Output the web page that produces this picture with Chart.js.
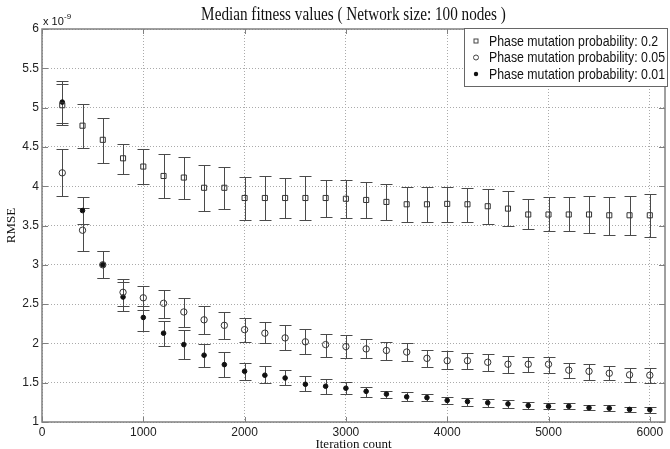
<!DOCTYPE html>
<html>
<head>
<meta charset="utf-8">
<script src="https://cdn.jsdelivr.net/npm/chart.js@4.4.1/dist/chart.umd.min.js"></script>
<style>
  html, body { margin: 0; padding: 0; background: #fff; }
  canvas { display: block; }
</style>
</head>
<body>
<canvas id="myChart" width="670" height="449"></canvas>
<script>
// iteration counts (x) and tick labels
var iterations = [200, 400, 600, 800, 1000, 1200, 1400, 1600, 1800, 2000,
  2200, 2400, 2600, 2800, 3000, 3200, 3400, 3600, 3800, 4000,
  4200, 4400, 4600, 4800, 5000, 5200, 5400, 5600, 5800, 6000];
var xTicks = [0, 1000, 2000, 3000, 4000, 5000, 6000];
var yTicks = [1, 1.5, 2, 2.5, 3, 3.5, 4, 4.5, 5, 5.5, 6];

var labels = ['Phase mutation probability: 0.2',
  'Phase mutation probability: 0.05',
  'Phase mutation probability: 0.01'];

// RMSE medians, in units of 1e-9, with lower / upper error bar ends
var med02 = [5.03, 4.77, 4.59, 4.355, 4.25, 4.13, 4.11, 3.98, 3.98, 3.85,
  3.85, 3.85, 3.85, 3.85, 3.84, 3.825, 3.80, 3.77, 3.77, 3.775,
  3.77, 3.745, 3.715, 3.64, 3.64, 3.64, 3.64, 3.63, 3.63, 3.63];
var hi02 = [5.30, 5.04, 4.87, 4.54, 4.47, 4.41, 4.37, 4.27, 4.24, 4.12,
  4.13, 4.10, 4.13, 4.08, 4.08, 4.05, 4.03, 3.99, 3.99, 3.99,
  3.98, 3.965, 3.935, 3.84, 3.86, 3.86, 3.88, 3.86, 3.875, 3.905];
var lo02 = [4.78, 4.49, 4.30, 4.16, 4.03, 3.855, 3.84, 3.68, 3.71, 3.575,
  3.57, 3.59, 3.575, 3.61, 3.595, 3.59, 3.575, 3.55, 3.55, 3.55,
  3.55, 3.52, 3.50, 3.45, 3.43, 3.43, 3.40, 3.385, 3.385, 3.355];

var med005 = [4.17, 3.44, 3.00, 2.65, 2.58, 2.51, 2.40, 2.30, 2.23, 2.175,
  2.13, 2.07, 2.02, 1.985, 1.96, 1.93, 1.91, 1.89, 1.81, 1.78,
  1.78, 1.76, 1.735, 1.735, 1.735, 1.66, 1.645, 1.62, 1.60, 1.595];
var hi005 = [4.47, 3.72, 3.17, 2.82, 2.735, 2.685, 2.58, 2.48, 2.405, 2.32,
  2.27, 2.23, 2.18, 2.125, 2.11, 2.05, 2.02, 2.00, 1.92, 1.90,
  1.88, 1.86, 1.845, 1.83, 1.83, 1.755, 1.735, 1.71, 1.69, 1.69];
var lo005 = [3.875, 3.18, 2.83, 2.47, 2.43, 2.32, 2.21, 2.125, 2.05, 2.02,
  2.00, 1.91, 1.86, 1.83, 1.81, 1.81, 1.79, 1.78, 1.70, 1.68,
  1.675, 1.655, 1.62, 1.64, 1.62, 1.565, 1.54, 1.53, 1.505, 1.50];

var med001 = [5.07, 3.69, 3.00, 2.59, 2.33, 2.13, 1.985, 1.85, 1.73, 1.645,
  1.595, 1.56, 1.48, 1.455, 1.43, 1.39, 1.355, 1.32, 1.31, 1.275,
  1.26, 1.245, 1.23, 1.21, 1.20, 1.20, 1.18, 1.175, 1.16, 1.155];
var hi001 = [5.34, 3.86, 3.17, 2.78, 2.48, 2.28, 2.17, 1.99, 1.89, 1.75,
  1.71, 1.66, 1.58, 1.55, 1.515, 1.44, 1.40, 1.38, 1.36, 1.32,
  1.31, 1.29, 1.275, 1.26, 1.245, 1.24, 1.22, 1.21, 1.195, 1.19];
var lo001 = [4.81, 3.52, 2.83, 2.41, 2.16, 1.97, 1.80, 1.705, 1.57, 1.53,
  1.49, 1.47, 1.39, 1.36, 1.35, 1.32, 1.30, 1.27, 1.265, 1.23,
  1.20, 1.195, 1.18, 1.17, 1.16, 1.16, 1.15, 1.14, 1.13, 1.115];

function points(ys) {
  return iterations.map(function(x, i) { return { x: x, y: ys[i] }; });
}

// vertical error bars with caps, drawn under the markers
var errorBars = {
  id: 'errorBars',
  beforeDatasetsDraw: function(chart) {
    var ctx = chart.ctx, xs = chart.scales.x, ys = chart.scales.y;
    ctx.save();
    ctx.strokeStyle = '#4a4a4a';
    ctx.lineWidth = 1;
    chart.data.datasets.forEach(function(ds) {
      for (var i = 0; i < ds.data.length; i++) {
        var px = Math.round(xs.getPixelForValue(ds.data[i].x)) + 0.5;
        var top = Math.round(ys.getPixelForValue(ds.hi[i])) + 0.5;
        var bot = Math.round(ys.getPixelForValue(ds.lo[i])) + 0.5;
        ctx.beginPath();
        ctx.moveTo(px, top); ctx.lineTo(px, bot);
        ctx.moveTo(px - 6, top); ctx.lineTo(px + 6, top);
        ctx.moveTo(px - 6, bot); ctx.lineTo(px + 6, bot);
        ctx.stroke();
      }
    });
    ctx.restore();
  }
};

// matlab style box with inward tick marks
var frame = {
  id: 'frame',
  beforeDatasetsDraw: function(chart) {
    var ctx = chart.ctx, a = chart.chartArea;
    var xs = chart.scales.x, ys = chart.scales.y;
    ctx.save();
    ctx.strokeStyle = '#808080';
    ctx.lineWidth = 1;
    ctx.beginPath();
    xTicks.forEach(function(v) {
      var px = Math.round(xs.getPixelForValue(v)) + 0.5;
      ctx.moveTo(px, a.bottom); ctx.lineTo(px, a.bottom - 5);
      ctx.moveTo(px, a.top); ctx.lineTo(px, a.top + 5);
    });
    yTicks.forEach(function(v) {
      var py = Math.round(ys.getPixelForValue(v)) + 0.5;
      ctx.moveTo(a.left, py); ctx.lineTo(a.left + 6, py);
      ctx.moveTo(a.right, py); ctx.lineTo(a.right - 6, py);
    });
    ctx.stroke();
    ctx.lineWidth = 1.5;
    ctx.strokeRect(a.left, a.top, a.right - a.left, a.bottom - a.top);
    ctx.restore();
  }
};

// title, axis titles, exponent and boxed legend
var texts = {
  id: 'texts',
  afterDraw: function(chart) {
    var ctx = chart.ctx, a = chart.chartArea;
    ctx.save();
    ctx.fillStyle = '#111';

    ctx.font = '19px "Liberation Serif", "Times New Roman", serif';
    ctx.textAlign = 'center';
    ctx.textBaseline = 'alphabetic';
    ctx.save();
    ctx.translate((a.left + a.right) / 2, 20);
    ctx.scale(0.8, 1);
    ctx.fillText('Median fitness values ( Network size: 100 nodes )', 0, 0);
    ctx.restore();

    ctx.font = '13px "Liberation Serif", "Times New Roman", serif';
    ctx.save();
    ctx.translate((a.left + a.right) / 2, 448);
    ctx.fillText('Iteration count', 0, 0);
    ctx.restore();

    ctx.save();
    ctx.translate(15, (a.top + a.bottom) / 2);
    ctx.rotate(-Math.PI / 2);
    ctx.fillText('RMSE', 0, 0);
    ctx.restore();

    ctx.textAlign = 'left';
    ctx.font = '11px "Liberation Sans", Arial, sans-serif';
    ctx.fillText('x 10', a.left + 1, 25);
    ctx.font = '8px "Liberation Sans", Arial, sans-serif';
    ctx.fillText('-9', a.left + 22, 19);

    // legend box
    var lx = 464.5, ly = 28.5, lw = 203, lh = 58;
    ctx.fillStyle = '#fff';
    ctx.fillRect(lx, ly, lw, lh);
    ctx.strokeStyle = '#666';
    ctx.lineWidth = 1;
    ctx.strokeRect(lx, ly, lw, lh);
    var rows = [41, 57.5, 74];
    ctx.font = '14px "Liberation Sans", Arial, sans-serif';
    ctx.textBaseline = 'middle';
    chart.data.datasets.forEach(function(ds, i) {
      var mx = 476, my = rows[i];
      ctx.strokeStyle = '#444';
      ctx.fillStyle = '#111';
      ctx.beginPath();
      if (ds.pointStyle === 'rect') {
        ctx.strokeRect(mx - 2, my - 2, 4, 4);
      } else if (ds.pointBackgroundColor === '#111') {
        ctx.arc(mx, my, 2.2, 0, Math.PI * 2);
        ctx.fill();
      } else {
        ctx.arc(mx, my, 2.5, 0, Math.PI * 2);
        ctx.stroke();
      }
      ctx.save();
      ctx.translate(489, my + 1);
      ctx.scale(0.88, 1);
      ctx.fillStyle = '#111';
      ctx.fillText(ds.label, 0, 0);
      ctx.restore();
    });
    ctx.restore();
  }
};

var ctx = document.getElementById('myChart').getContext('2d');
var chart = new Chart(ctx, {
  type: 'scatter',
  data: {
    datasets: [{
      label: labels[0],
      data: points(med02), lo: lo02, hi: hi02,
      pointStyle: 'rect', pointRadius: 3.6, pointBorderWidth: 1,
      pointBorderColor: '#333', pointBackgroundColor: 'rgba(0,0,0,0)'
    }, {
      label: labels[1],
      data: points(med005), lo: lo005, hi: hi005,
      pointStyle: 'circle', pointRadius: 3.2, pointBorderWidth: 1,
      pointBorderColor: '#333', pointBackgroundColor: 'rgba(0,0,0,0)'
    }, {
      label: labels[2],
      data: points(med001), lo: lo001, hi: hi001,
      pointStyle: 'circle', pointRadius: 2.3, pointBorderWidth: 1,
      pointBorderColor: '#111', pointBackgroundColor: '#111'
    }]
  },
  options: {
    responsive: false,
    animation: false,
    layout: { padding: { top: 29, right: 1, left: 0, bottom: 0 } },
    plugins: {
      legend: { display: false },
      title: { display: false },
      tooltip: { enabled: false }
    },
    scales: {
      x: {
        type: 'linear', min: 0, max: 6150,
        afterBuildTicks: function(s) { s.ticks = xTicks.map(function(v) { return { value: v }; }); },
        afterFit: function(s) { s.height = 27; },
        grid: { color: '#aaa', drawTicks: false },
        border: { display: false, dash: [1, 2] },
        ticks: {
          padding: 3, maxRotation: 0, color: '#222',
          font: { family: 'Liberation Sans', size: 12 },
          callback: function(v) { return String(v); }
        }
      },
      y: {
        type: 'linear', min: 1, max: 6,
        afterBuildTicks: function(s) { s.ticks = yTicks.map(function(v) { return { value: v }; }); },
        afterFit: function(s) { s.width = 42; },
        grid: { color: '#aaa', drawTicks: false },
        border: { display: false, dash: [1, 2] },
        ticks: {
          padding: 3, color: '#222',
          font: { family: 'Liberation Sans', size: 12 },
          callback: function(v) { return String(v); }
        }
      }
    }
  },
  plugins: [errorBars, frame, texts]
});
</script>
</body>
</html>
